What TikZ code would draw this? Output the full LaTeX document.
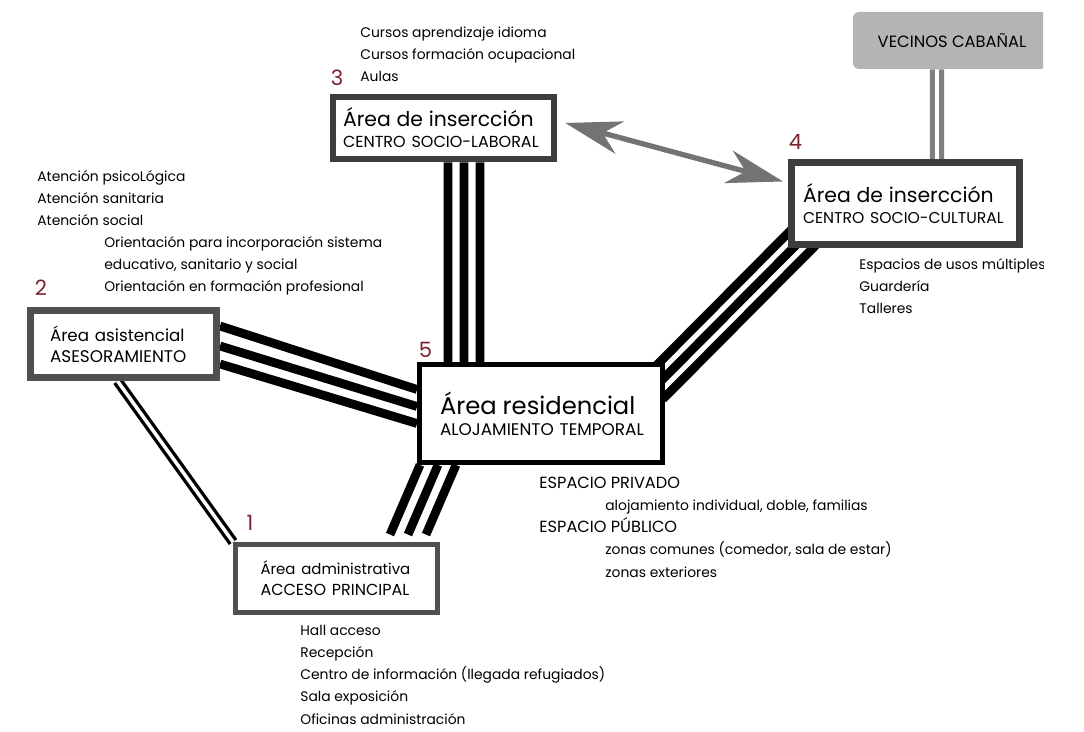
\documentclass[tikz,border=0pt]{standalone}
\usepackage{fontspec}
\setmainfont{Poppins}
\usetikzlibrary{arrows.meta, positioning, calc, backgrounds}

\definecolor{boxgray}{HTML}{3D3D3D}
\definecolor{lightbox}{HTML}{505050}
\definecolor{vecgray}{HTML}{B4B4B4}
\definecolor{linkgray}{HTML}{808080}
\definecolor{arrowgray}{HTML}{737373}
\definecolor{numred}{HTML}{7A2230}

\newcommand{\capsline}[1]{{\fontsize{9.2}{12.6}\selectfont #1}}

\begin{document}
\begin{tikzpicture}[
  x=0.02cm, y=-0.02cm,
  % ---- styles ----
  areabox/.style = {
    draw=boxgray, fill=white,
    line width=3.8pt,
    align=left,
    inner ysep=0pt
  },
  vecbox/.style = {
    fill=vecgray, rounded corners=3.4pt,
    minimum width=3.96cm, minimum height=1.14cm,
    font=\fontsize{9.3}{10}\selectfont
  },
  link/.style = {line width=5pt, black},
  thinlink/.style = {draw=black, double=white, line width=1.9pt, double distance=2pt},
  greylink/.style = {draw=linkgray, double=white, line width=2.9pt, double distance=2.2pt},
  biarrow/.style = {{Stealth[length=32pt, width=19pt, inset=10pt]}-{Stealth[length=32pt, width=19pt, inset=10pt]},
    line width=3pt, arrowgray},
  areanum/.style = {text=numred, font=\fontsize{12}{12}\selectfont, inner sep=0pt},
  notes/.style = {anchor=base west, align=left, inner sep=0pt, font=\fontsize{7.9}{12.6}\selectfont}
]
\useasboundingbox (0,0) rectangle (1084,732);

\begin{scope}
\clip (0,0) rectangle (1043,732);

% ============ AREAS ============

% --- 3: centro socio-laboral ---
\node[areabox, line width=3.8pt, minimum height=1.24cm, text width=4.02cm, inner xsep=0.2cm] (laboral) at (443.5,128) {
  \fontsize{11.6}{12.5}\selectfont Área de insercción\\
  \fontsize{9.1}{12.5}\selectfont \mbox{CENTRO SOCIO-LABORAL}
};

% --- 4: centro socio-cultural ---
\node[areabox, line width=4pt, minimum height=1.64cm, text width=4.10cm, inner xsep=0.23cm] (cultural) at (905.5,203.5) {
  \fontsize{11.6}{12.5}\selectfont Área de insercción\\
  \fontsize{8.9}{12.5}\selectfont \mbox{CENTRO SOCIO-CULTURAL}
};

% --- 2: asesoramiento ---
\node[areabox, line width=4pt, draw=lightbox, minimum height=1.34cm, text width=2.94cm, inner xsep=0.39cm] (asistencial) at (123.5,344) {
  \fontsize{9.5}{12.5}\selectfont Área asistencial\\
  \fontsize{9.6}{12.5}\selectfont ASESORAMIENTO
};

% --- 5: alojamiento temporal ---
\node[areabox, line width=2.8pt, draw=black, minimum height=1.96cm, text width=4.04cm, inner xsep=0.41cm] (residencial) at (541,413.5) {
  \fontsize{13.8}{12.5}\selectfont Área residencial\\
  \fontsize{9.6}{12.5}\selectfont \mbox{ALOJAMIENTO TEMPORAL}
};

% --- 1: acceso principal ---
\node[areabox, line width=2.8pt, draw=lightbox, minimum height=1.36cm, text width=3.04cm, inner xsep=0.5cm] (administrativa) at (336.5,578.5) {
  \fontsize{8.5}{12.5}\selectfont Área administrativa\\
  \fontsize{9.1}{12.5}\selectfont \mbox{ACCESO PRINCIPAL}
};

% --- vecinos ---
\node[vecbox] (vecinos) at (952,40.5) {VECINOS CABAÑAL};

% ============ NUMBERS ============
\node[areanum] (num1) at (250,522.5) {1};
\node[areanum] (num2) at (41,288) {2};
\node[areanum] (num3) at (337,77.5) {3};
\node[areanum] (num4) at (795.5,141.5) {4};
\node[areanum] (num5) at (425.5,350) {5};

% ============ NOTES ============
% (base = last line)
\node[notes] (cursos) at (360,81.5) {Cursos aprendizaje idioma\\Cursos formación ocupacional\\Aulas};
\node[notes] (atencion) at (37,292) {
  Atención psicoLógica\\
  Atención sanitaria\\
  Atención social\\
  \hspace*{1.34cm}Orientación para incorporación sistema\\
  \hspace*{1.34cm}educativo, sanitario y social\\
  \hspace*{1.34cm}Orientación en formación profesional
};
\node[notes] (usos) at (859,314) {Espacios de usos múltiples\\Guardería\\Talleres};
\node[notes] (espacios) at (539,577) {
  \capsline{ESPACIO PRIVADO}\\
  \hspace*{1.32cm}alojamiento individual, doble, familias\\
  \capsline{ESPACIO PÚBLICO}\\
  \hspace*{1.32cm}zonas comunes (comedor, sala de estar)\\
  \hspace*{1.32cm}zonas exteriores
};
\node[notes] (acceso) at (300,724) {
  Hall acceso\\
  Recepción\\
  Centro de información (llegada refugiados)\\
  Sala exposición\\
  Oficinas administración
};
\end{scope}

% ============ LINKS ============
\begin{scope}[on background layer]
% laboral -- residencial
\foreach \a/\b in {4.5/-93, 20.5/-77, 36.5/-61}
  \draw[link] ($(laboral.south)+(\a,0)$) -- ($(residencial.north)+(\b,0)$);

% asistencial -- residencial
\foreach \a/\b in {-18/-24, 2/-7, 20/10}
  \draw[link] ($(asistencial.east)+(0,\a)$) -- ($(residencial.west)+(0,\b)$);

% residencial -- administrativa
\foreach \a/\b in {-121/53.5, -103/71.5, -85/89.5}
  \draw[link] ($(residencial.south)+(\a,0)$) -- ($(administrativa.north)+(\b,-7.5)$);

% residencial -- cultural
\foreach \a/\b in {0/0, 10/10, 20/20}
  \draw[link] ($(residencial.north east)+(-22+\a,17+\b)$) -- ($(cultural.south west)+(8+\a,-23+\b)$);

% asistencial -- administrativa
\draw[thinlink] ($(asistencial.south)+(-6,0)$) -- (administrativa.north west);

% vecinos -- cultural
\draw[greylink] ($(vecinos.south)+(-15,0)$) -- ($(cultural.north)+(31.5,0)$);

% laboral <-> cultural
\draw[biarrow] ($(laboral.east)+(8,-5)$) -- ($(cultural.west)+(-5,-22)$);
\end{scope}

\end{tikzpicture}
\end{document}
